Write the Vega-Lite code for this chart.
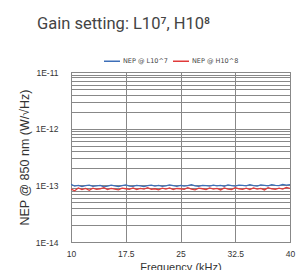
{
  "$schema": "https://vega.github.io/schema/vega-lite/v6.json",
  "width": 219,
  "height": 170,
  "autosize": {"type": "none"},
  "padding": {"left": 71, "top": 72, "right": 10, "bottom": 28},
  "background": "white",
  "title": {
    "text": "Gain setting: L10⁷, H10⁸",
    "anchor": "start",
    "frame": "group",
    "dx": -34,
    "offset": 20,
    "font": "Roboto",
    "fontSize": 16.5,
    "fontWeight": "normal",
    "color": "#444444"
  },
  "config": {
    "view": {"stroke": "#666666", "strokeWidth": 1},
    "axis": {
      "labelFont": "Liberation Sans",
      "titleFont": "Liberation Sans",
      "labelColor": "#333333",
      "titleColor": "#333333",
      "titleFontWeight": "normal",
      "gridColor": "#888888",
      "gridOpacity": 1,
      "gridWidth": 1,
      "domain": false,
      "ticks": false
    }
  },
  "data": {
    "values": [
      {"f": 10, "L": 1.04e-13, "H": 0.86e-13},
      {"f": 10.5, "L": 0.97e-13, "H": 0.80e-13},
      {"f": 11, "L": 1.00e-13, "H": 0.90e-13},
      {"f": 11.5, "L": 0.95e-13, "H": 0.84e-13},
      {"f": 12, "L": 0.99e-13, "H": 0.88e-13},
      {"f": 12.5, "L": 1.01e-13, "H": 0.82e-13},
      {"f": 13, "L": 0.96e-13, "H": 0.89e-13},
      {"f": 13.5, "L": 0.98e-13, "H": 0.85e-13},
      {"f": 14, "L": 1.00e-13, "H": 0.87e-13},
      {"f": 14.5, "L": 0.94e-13, "H": 0.91e-13},
      {"f": 15, "L": 0.97e-13, "H": 0.84e-13},
      {"f": 15.5, "L": 1.01e-13, "H": 0.88e-13},
      {"f": 16, "L": 0.98e-13, "H": 0.86e-13},
      {"f": 16.5, "L": 0.95e-13, "H": 0.83e-13},
      {"f": 17, "L": 0.99e-13, "H": 0.89e-13},
      {"f": 17.5, "L": 1.02e-13, "H": 0.87e-13},
      {"f": 18, "L": 0.97e-13, "H": 0.85e-13},
      {"f": 18.5, "L": 0.96e-13, "H": 0.90e-13},
      {"f": 19, "L": 1.00e-13, "H": 0.84e-13},
      {"f": 19.5, "L": 0.98e-13, "H": 0.88e-13},
      {"f": 20, "L": 0.95e-13, "H": 0.86e-13},
      {"f": 20.5, "L": 0.99e-13, "H": 0.91e-13},
      {"f": 21, "L": 1.01e-13, "H": 0.85e-13},
      {"f": 21.5, "L": 0.97e-13, "H": 0.87e-13},
      {"f": 22, "L": 1.00e-13, "H": 0.83e-13},
      {"f": 22.5, "L": 0.96e-13, "H": 0.89e-13},
      {"f": 23, "L": 0.98e-13, "H": 0.86e-13},
      {"f": 23.5, "L": 1.02e-13, "H": 0.90e-13},
      {"f": 24, "L": 0.99e-13, "H": 0.84e-13},
      {"f": 24.5, "L": 0.96e-13, "H": 0.88e-13},
      {"f": 25, "L": 1.00e-13, "H": 0.87e-13},
      {"f": 25.5, "L": 0.97e-13, "H": 0.85e-13},
      {"f": 26, "L": 0.99e-13, "H": 0.91e-13},
      {"f": 26.5, "L": 1.03e-13, "H": 0.86e-13},
      {"f": 27, "L": 0.98e-13, "H": 0.83e-13},
      {"f": 27.5, "L": 0.96e-13, "H": 0.89e-13},
      {"f": 28, "L": 1.00e-13, "H": 0.87e-13},
      {"f": 28.5, "L": 0.99e-13, "H": 0.84e-13},
      {"f": 29, "L": 0.97e-13, "H": 0.90e-13},
      {"f": 29.5, "L": 1.01e-13, "H": 0.86e-13},
      {"f": 30, "L": 0.98e-13, "H": 0.88e-13},
      {"f": 30.5, "L": 1.00e-13, "H": 0.83e-13},
      {"f": 31, "L": 0.96e-13, "H": 0.90e-13},
      {"f": 31.5, "L": 1.02e-13, "H": 0.86e-13},
      {"f": 32, "L": 0.99e-13, "H": 0.84e-13},
      {"f": 32.5, "L": 0.97e-13, "H": 0.91e-13},
      {"f": 33, "L": 1.01e-13, "H": 0.87e-13},
      {"f": 33.5, "L": 1.00e-13, "H": 0.85e-13},
      {"f": 34, "L": 0.98e-13, "H": 0.89e-13},
      {"f": 34.5, "L": 1.03e-13, "H": 0.84e-13},
      {"f": 35, "L": 0.99e-13, "H": 0.90e-13},
      {"f": 35.5, "L": 0.97e-13, "H": 0.86e-13},
      {"f": 36, "L": 1.02e-13, "H": 0.88e-13},
      {"f": 36.5, "L": 1.00e-13, "H": 0.83e-13},
      {"f": 37, "L": 0.98e-13, "H": 0.91e-13},
      {"f": 37.5, "L": 1.03e-13, "H": 0.87e-13},
      {"f": 38, "L": 1.00e-13, "H": 0.85e-13},
      {"f": 38.5, "L": 0.99e-13, "H": 0.89e-13},
      {"f": 39, "L": 1.04e-13, "H": 0.86e-13},
      {"f": 39.5, "L": 1.01e-13, "H": 0.92e-13},
      {"f": 40, "L": 1.03e-13, "H": 0.88e-13}
    ]
  },
  "transform": [{"fold": ["L", "H"], "as": ["series", "nep"]}],
  "mark": {"type": "line", "strokeWidth": 1.3, "clip": true},
  "encoding": {
    "x": {
      "field": "f",
      "type": "quantitative",
      "scale": {"domain": [10, 40], "nice": false, "zero": false},
      "axis": {
        "values": [10, 17.5, 25, 32.5, 40],
        "format": ".1~f",
        "title": "Frequency (kHz)",
        "labelFontSize": 8.5,
        "labelPadding": 7,
        "titleFontSize": 11,
        "titlePadding": 4,
        "labelFlush": false
      }
    },
    "y": {
      "field": "nep",
      "type": "quantitative",
      "scale": {"type": "log", "domain": [1e-14, 1e-11], "nice": false},
      "axis": {
        "values": [1e-14, 2e-14, 3e-14, 4e-14, 5e-14, 6e-14, 7e-14, 8e-14, 9e-14, 1e-13, 2e-13, 3e-13, 4e-13, 5e-13, 6e-13, 7e-13, 8e-13, 9e-13, 1e-12, 2e-12, 3e-12, 4e-12, 5e-12, 6e-12, 7e-12, 8e-12, 9e-12, 1e-11],
        "labelExpr": "datum.value == 1e-11 ? '1E-11' : datum.value == 1e-12 ? '1E-12' : datum.value == 1e-13 ? '1E-13' : datum.value == 1e-14 ? '1E-14' : ''",
        "title": "NEP @ 850 nm (W/√Hz)",
        "labelFontSize": 8.5,
        "labelPadding": 13,
        "titleFontSize": 12.5,
        "titlePadding": 4,
        "labelFlush": false,
        "labelOverlap": false
      }
    },
    "color": {
      "field": "series",
      "type": "nominal",
      "scale": {"domain": ["L", "H"], "range": ["#3d6fb8", "#e03a3a"]},
      "legend": {
        "orient": "none",
        "legendX": 32,
        "legendY": -20,
        "direction": "horizontal",
        "title": null,
        "symbolType": "stroke",
        "symbolSize": 256,
        "symbolStrokeWidth": 1.5,
        "labelFont": "DejaVu Sans",
        "labelFontSize": 6.5,
        "labelColor": "#444444",
        "labelOffset": 2,
        "columnPadding": 2,
        "labelExpr": "datum.label == 'L' ? 'NEP @ L10^7' : 'NEP @ H10^8'"
      }
    }
  }
}
